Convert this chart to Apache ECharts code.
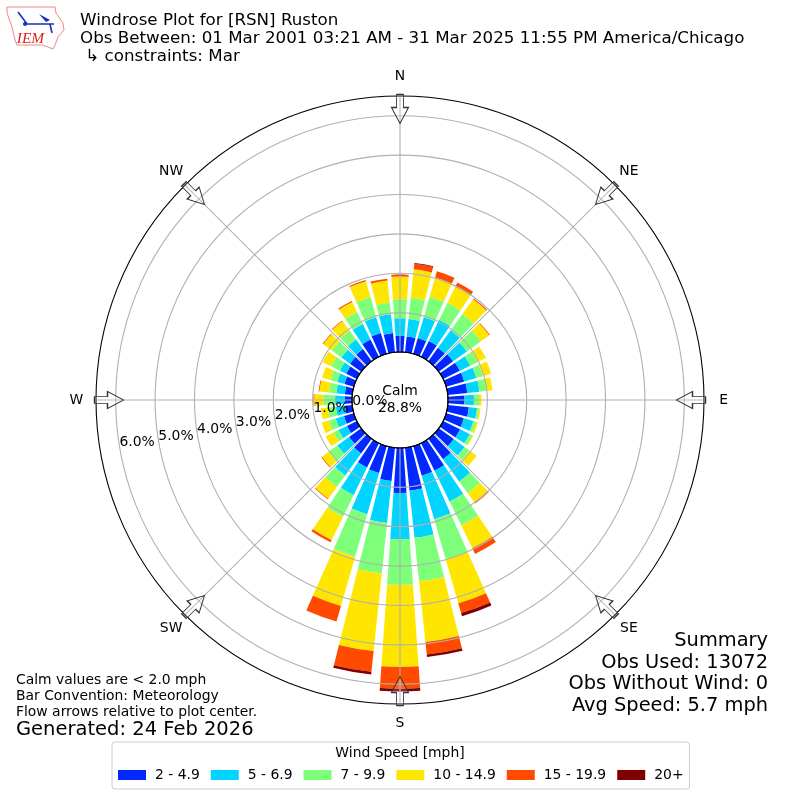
<!DOCTYPE html>
<html><head><meta charset="utf-8">
<style>html,body{margin:0;padding:0;background:#fff}#c{width:800px;height:800px}</style>
<script src="https://cdn.jsdelivr.net/npm/echarts@6/dist/echarts.min.js"></script>
</head><body><div id="c"></div>
<script>
const directions = [0,10,20,30,40,50,60,70,80,90,100,110,120,130,140,150,160,170,180,190,200,210,220,230,240,250,260,270,280,290,300,310,320,330,340,350];
const speedBins = ['2 - 4.9','5 - 6.9','7 - 9.9','10 - 14.9','15 - 19.9','20+'];
const binColors = ['#0028ff','#00d4ff','#7dff7a','#ffe600','#ff4a00','#7f0000'];
const speed2to5 = [.41,.40,.42,.45,.42,.45,.47,.48,.50,.42,.54,.47,.48,.47,.64,.78,.78,1.10,1.14,.85,.71,.69,.46,.38,.28,.26,.19,.18,.19,.25,.30,.35,.38,.49,.55,.49];
const speed5to7 = [.45,.45,.55,.60,.55,.43,.30,.32,.31,.24,.21,.25,.27,.34,.70,.87,1.15,1.20,1.18,1.07,1.09,.78,.69,.37,.24,.22,.23,.25,.22,.19,.18,.27,.30,.44,.42,.48];
const speed7to10 = [.48,.54,.54,.48,.51,.44,.21,.17,.19,.13,.05,.07,.08,.16,.36,.68,1.06,1.11,1.16,1.29,1.12,.61,.36,.27,.14,.18,.20,.30,.18,.18,.25,.30,.28,.34,.53,.30];
const speed10to15 = [.58,.73,.51,.45,.46,.26,.23,.22,.14,.06,.04,.05,.02,.22,.31,.64,1.16,1.55,2.08,1.98,1.30,.66,.37,.21,.22,.19,.18,.23,.25,.22,.24,.27,.30,.28,.42,.56];
const speed15to20 = [.04,.14,.16,.12,.03,.02,0,0,0,0,0,0,0,0,.02,.16,.26,.32,.55,.53,.41,.06,.02,.02,0,0,0,.02,.02,0,0,.02,.02,.03,.03,.05];
const speed20plus = [0,.02,0,0,0,0,0,0,0,0,0,0,0,0,0,0,.08,.06,.07,.07,0,0,0,0,0,0,0,0,0,0,0,0,0,0,0,0];
const binValues = [speed2to5,speed5to7,speed7to10,speed10to15,speed15to20,speed20plus];
const radialTicks = [0,1,2,3,4,5,6];
const compassNames = ['N','NE','E','SE','S','SW','W','NW'];
const compassAngles = [0,45,90,135,180,225,270,315];
const radialLabelAngle = 260;
const compassLabelRadius = 7.0;
const arrowRadius = 6.17;
const titleLines = ['Windrose Plot for [RSN] Ruston','Obs Between: 01 Mar 2001 03:21 AM - 31 Mar 2025 11:55 PM America/Chicago',' \u21b3 constraints: Mar'];
const summaryLines = ['Summary','Obs Used: 13072','Obs Without Wind: 0','Avg Speed: 5.7 mph'];
const noteLines = ['Calm values are < 2.0 mph','Bar Convention: Meteorology','Flow arrows relative to plot center.'];
const font = 'DejaVu Sans';
const arrowPath = 'path://M3,0 L7,0 L7,13 L10,13 L5,29 L0,13 L3,13 Z';

const barSeries = speedBins.map((name,i)=>({
  type:'bar', name, coordinateSystem:'polar', stack:'rose', barWidth:'80%', z:2,
  itemStyle:{color:binColors[i]}, silent:true,
  data:directions.map((a,j)=>[binValues[i][j],a])
}));
const tickLabelSeries = {
  type:'scatter', coordinateSystem:'polar', symbol:'circle', symbolSize:1, clip:false, z:6, silent:true,
  itemStyle:{color:'transparent',opacity:1},
  label:{show:true,position:[0,1],align:'left',verticalAlign:'bottom',fontFamily:font,fontSize:13.9,color:'#000',
    formatter:p=>p.value[0].toFixed(1)+'%'},
  data:radialTicks.map(t=>[t,radialLabelAngle])
};
const compassSeries = {
  type:'scatter', coordinateSystem:'polar', symbol:'circle', symbolSize:1, clip:false, z:6, silent:true,
  itemStyle:{color:'transparent',opacity:1},
  label:{show:true,position:'inside',align:'center',verticalAlign:'middle',fontFamily:font,fontSize:13.9,color:'#000',
    formatter:p=>p.name},
  data:compassNames.map((n,i)=>({name:n,value:[compassLabelRadius,compassAngles[i]]}))
};
const arrowSeries = {
  type:'scatter', coordinateSystem:'polar', clip:false, z:5, silent:true,
  symbol:arrowPath, symbolSize:[17,29],
  itemStyle:{color:'rgba(255,255,255,0.15)',borderColor:'#333',borderWidth:1.1,opacity:1},
  data:compassAngles.map(a=>({value:[arrowRadius,a],symbolRotate:-a}))
};
const gridColors = ['#000'].concat(radialTicks.slice(1).map(()=>'#b0b0b0'),['rgba(0,0,0,0)']);
const txt = (text,x,y,size,extra)=>({type:'text',z:20,silent:true,style:Object.assign({text,x,y,fontFamily:font,fontSize:size,fill:'#000',verticalAlign:'middle'},extra||{})});
const graphics = [];
titleLines.forEach((t,i)=>graphics.push(txt(t,80,21+i*17.6,16.7)));
summaryLines.forEach((t,i)=>graphics.push(txt(t,768,641+i*21.6,19.4,{align:'right'})));
noteLines.forEach((t,i)=>graphics.push(txt(t,16,680+i*16,13.9)));
graphics.push(txt('Generated: 24 Feb 2026',16,730,19.5));
graphics.push(txt('Calm',400,391,13.9,{align:'center'}));
graphics.push(txt('28.8%',400,408,13.9,{align:'center'}));
graphics.push(txt('Wind Speed [mph]',400,753,13.9,{align:'center'}));
// logo
graphics.push({type:'polyline',z:20,silent:true,shape:{points:[[7,7],[55,7],[56,13],[63,23],[64,30],[58,37],[55,45],[53,49],[43,45],[17,45],[15,40],[12,27],[7,13],[7,7]]},style:{fill:'none',stroke:'#e88',lineWidth:1}});
graphics.push({type:'polyline',z:20,silent:true,shape:{points:[[18,12],[27,24],[54,24]]},style:{fill:'none',stroke:'#1a2fc0',lineWidth:1.6}});
graphics.push({type:'polygon',z:20,silent:true,shape:{points:[[39,14],[50,20],[46,22]]},style:{fill:'#1a2fc0'}});
graphics.push({type:'line',z:20,silent:true,shape:{x1:50,y1:24,x2:52,y2:33},style:{stroke:'#1a2fc0',lineWidth:1.6}});
graphics.push({type:'circle',z:20,silent:true,shape:{cx:25,cy:24,r:2},style:{fill:'#1a2fc0'}});
graphics.push(txt('IEM',30.5,39,15.5,{align:'center',fontFamily:'Liberation Serif',fontStyle:'italic',fill:'#d22'}));

const chart = echarts.init(document.getElementById('c'),null,{renderer:'canvas'});
chart.setOption({
  animation:false, backgroundColor:'#fff',
  polar:{center:[400,400],radius:[48,304]},
  angleAxis:{type:'value',min:0,max:360,interval:45,startAngle:90,clockwise:true,z:3,
    axisLine:{show:true,lineStyle:{color:'#000',width:1.1}},axisTick:{show:false},axisLabel:{show:false},
    splitLine:{show:true,lineStyle:{color:'#b0b0b0',width:1.1}}},
  radiusAxis:{type:'value',min:0,max:6.5,interval:1,z:3,
    axisLine:{show:false},axisTick:{show:false},axisLabel:{show:false},
    splitLine:{show:true,lineStyle:{color:gridColors,width:1.1}}},
  legend:{data:speedBins,left:112,top:742,orient:'horizontal',itemWidth:28,itemHeight:10,itemGap:11,icon:'rect',
    padding:[26,6,7,6],borderColor:'#ccc',borderWidth:1,borderRadius:3,selectedMode:false,
    textStyle:{fontFamily:font,fontSize:13.9,color:'#000',padding:[0,0,0,4]}},
  series:barSeries.concat([tickLabelSeries,compassSeries,arrowSeries]),
  graphic:graphics
});
</script></body></html>
